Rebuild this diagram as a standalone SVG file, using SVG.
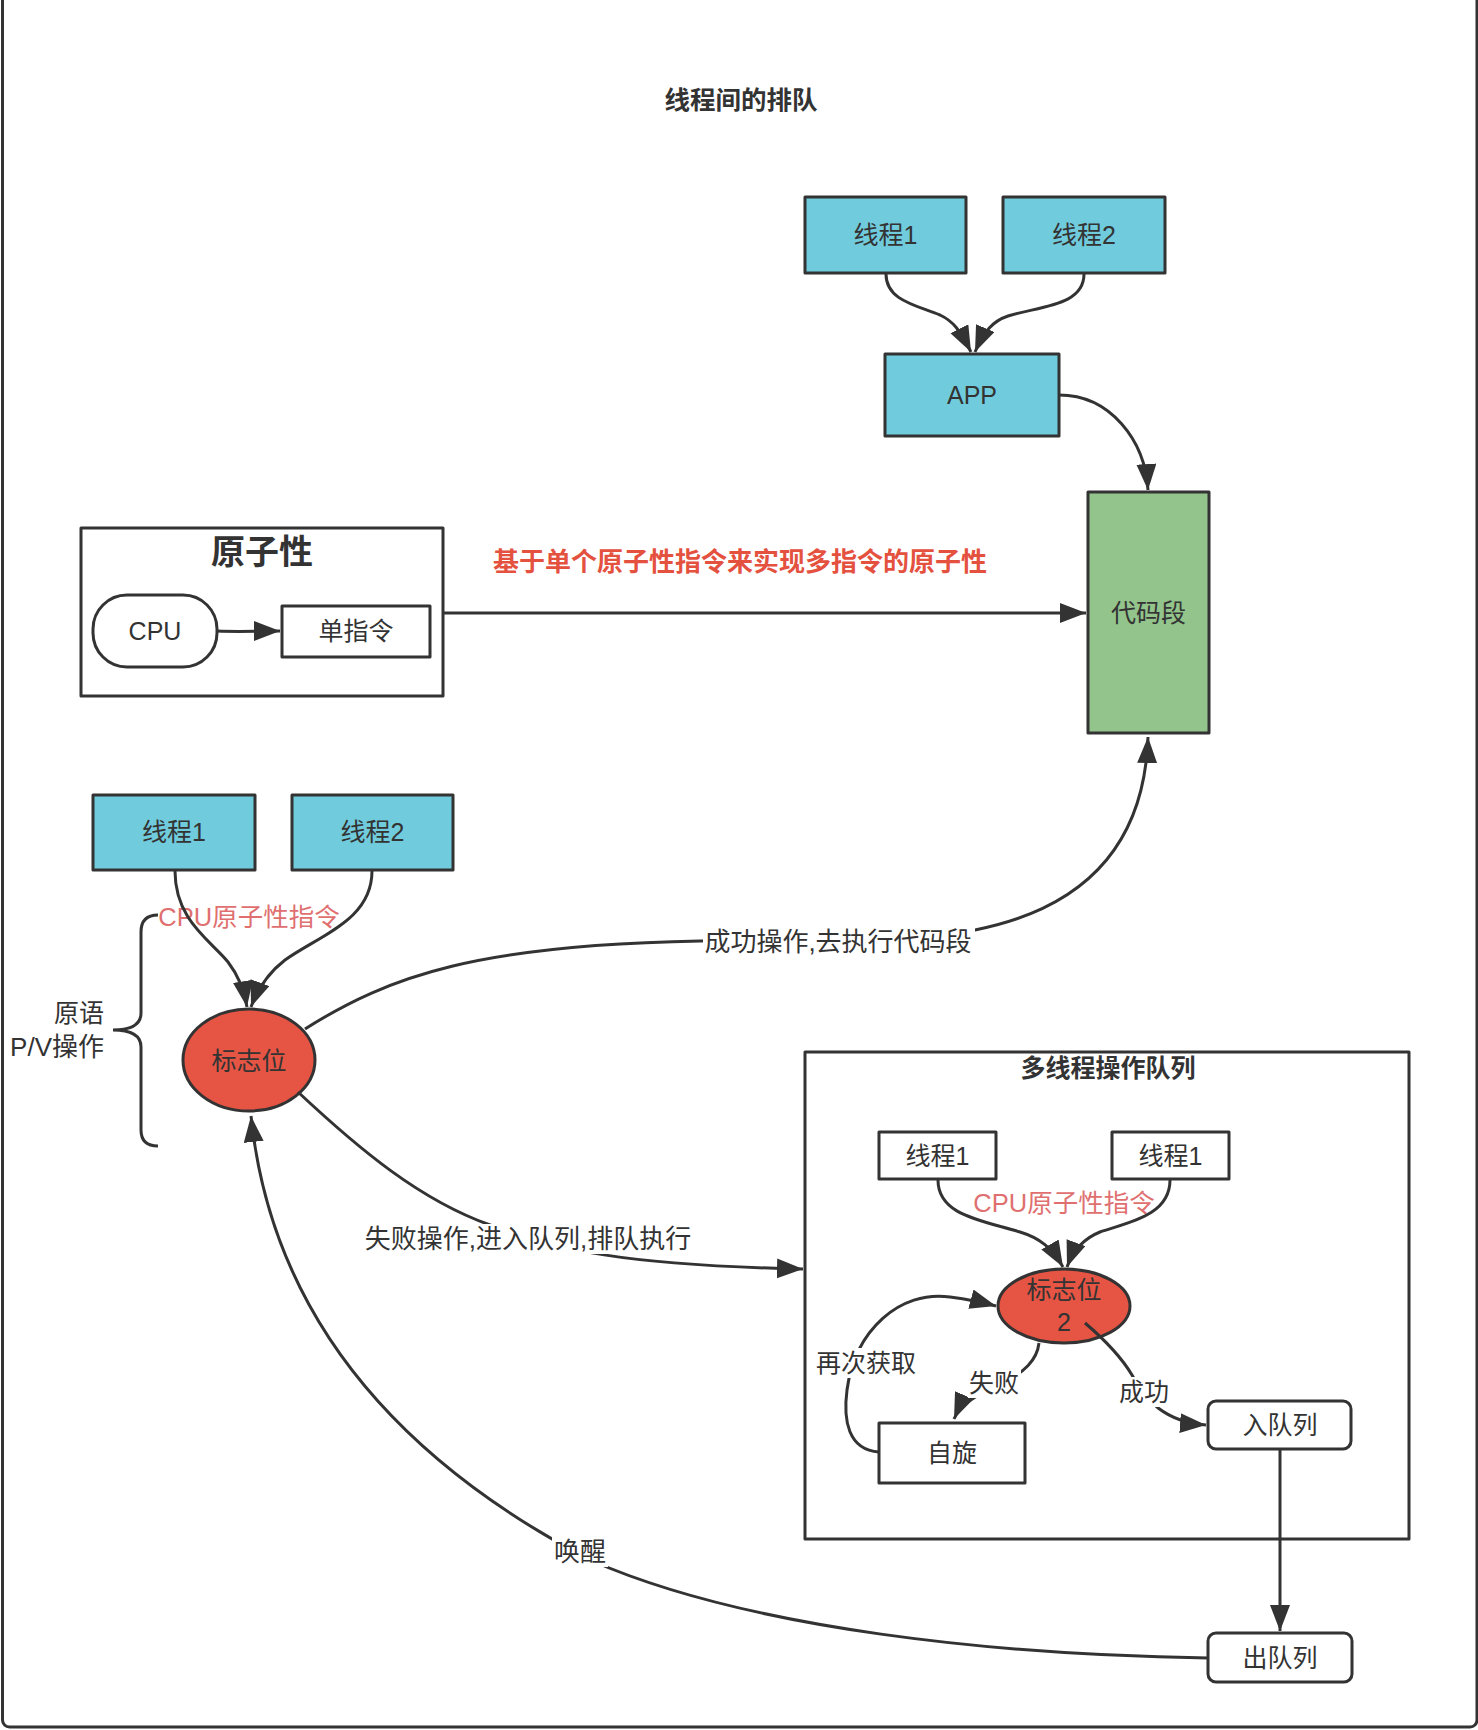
<svg xmlns="http://www.w3.org/2000/svg" width="1478" height="1730" viewBox="0 0 1478 1730">
<defs>
<style>
.t{font-family:"Liberation Sans","Noto Sans CJK SC",sans-serif;font-size:25px;fill:#333;text-anchor:middle;dominant-baseline:central}
.lbl{font-family:"Liberation Sans","Noto Sans CJK SC",sans-serif;font-size:26px;fill:#333;text-anchor:middle;dominant-baseline:central}
.b{font-weight:bold}
.box{stroke:#333;stroke-width:3;stroke-linejoin:round}
.blue{fill:#70CCDD}
.white{fill:#fff}
.edge{fill:none;stroke:#333;stroke-width:3}
.bg{fill:#fff}
.red1{fill:#E65444}
</style>
<marker id="arr" markerUnits="userSpaceOnUse" markerWidth="30" markerHeight="22" refX="26" refY="10" orient="auto">
<path d="M0,0 L26,10 L0,20 Z" fill="#333"/>
</marker>
</defs>
<rect x="0" y="0" width="1478" height="1730" fill="#fff"/>
<rect x="2.5" y="-20" width="1474.5" height="1747" rx="7" fill="none" stroke="#333" stroke-width="3"/>

<text class="t b" x="741" y="100" style="font-size:25.5px">线程间的排队</text>
<text class="t b" x="740" y="562" style="font-size:26px;fill:#E4513F">基于单个原子性指令来实现多指令的原子性</text>

<g id="thread1-top"><rect class="box blue" x="805" y="197" width="161" height="76"/><text class="t" x="885.5" y="235">线程1</text></g>
<g id="thread2-top"><rect class="box blue" x="1003" y="197" width="162" height="76"/><text class="t" x="1084" y="235">线程2</text></g>
<g id="app"><rect class="box blue" x="885" y="354" width="174" height="82"/><text class="t" x="972" y="395">APP</text></g>
<g id="code"><rect class="box" fill="#92C48B" x="1088" y="492" width="121" height="241"/><text class="t" x="1148.5" y="613">代码段</text></g>

<g id="atomic">
<rect class="box" fill="none" x="81" y="528" width="362" height="168"/>
<text class="t b" x="262" y="552" style="font-size:34px">原子性</text>
</g>
<g id="cpu"><rect class="box white" x="93" y="595" width="124" height="72" rx="34"/><text class="t" x="155" y="631">CPU</text></g>
<g id="single"><rect class="box white" x="282" y="606" width="148" height="51"/><text class="t" x="356" y="631">单指令</text></g>

<g id="thread1-bl"><rect class="box blue" x="93" y="795" width="162" height="75"/><text class="t" x="174" y="832">线程1</text></g>
<g id="thread2-bl"><rect class="box blue" x="292" y="795" width="161" height="75"/><text class="t" x="372.5" y="832">线程2</text></g>
<text class="t" x="249" y="917" style="fill:#E07070;font-size:25.5px">CPU原子性指令</text>
<g id="flag"><ellipse class="box red1" cx="249" cy="1060" rx="66" ry="51"/><text class="t" x="249" y="1061">标志位</text></g>
<g id="pv">
<text class="t" x="104" y="1013" style="text-anchor:end">原语</text>
<text class="t" x="104" y="1047" style="text-anchor:end;font-size:26px">P/V操作</text>
</g>

<g id="queue">
<rect class="box" fill="none" x="805" y="1052" width="604" height="487"/>
<text class="t b" x="1108" y="1068">多线程操作队列</text>
</g>
<g id="q-thread1a"><rect class="box white" x="879" y="1132" width="117" height="47"/><text class="t" x="937.5" y="1155.5">线程1</text></g>
<g id="q-thread1b"><rect class="box white" x="1112" y="1132" width="117" height="47"/><text class="t" x="1170.5" y="1155.5">线程1</text></g>
<text class="t" x="1064" y="1203" style="fill:#E07070;font-size:25.5px">CPU原子性指令</text>
<g id="flag2"><ellipse class="box red1" cx="1064" cy="1306" rx="66" ry="37"/><text class="t" x="1064" y="1290">标志位</text><text class="t" x="1064" y="1322">2</text></g>
<g id="spin"><rect class="box white" x="879" y="1423" width="146" height="60"/><text class="t" x="952" y="1453">自旋</text></g>
<g id="enqueue"><rect class="box white" x="1208" y="1401" width="143" height="48" rx="8"/><text class="t" x="1280" y="1425">入队列</text></g>
<g id="dequeue"><rect class="box white" x="1208" y="1633" width="144" height="49" rx="8"/><text class="t" x="1280" y="1658">出队列</text></g>

<g id="connectors">
<path class="edge" d="M886,274 C886,300 915,305 940,315 C953,321 960,330 971,352" marker-end="url(#arr)"/>
<path class="edge" d="M1084,274 C1084,306 1040,306 1008,316 C993,321 984,331 975,352" marker-end="url(#arr)"/>
<path class="edge" d="M1059,395 C1110,395 1145,440 1148,490" marker-end="url(#arr)"/>
<path class="edge" d="M443,613 L1086,613" marker-end="url(#arr)"/>
<path class="edge" d="M217,631 C240,632 255,631 280,631" marker-end="url(#arr)"/>
<path class="edge" d="M175,871 C175,920 210,940 228,962 C238,975 244,988 247,1007" marker-end="url(#arr)"/>
<path class="edge" d="M372,871 C372,920 320,935 285,960 C268,973 258,988 251,1007" marker-end="url(#arr)"/>
<path class="edge" d="M305,1029 C390,975 480,945 700,941 C760,940 890,945 975,930 C1100,905 1145,830 1148,737" marker-end="url(#arr)"/>
<path class="edge" d="M298,1092 C360,1150 420,1200 490,1225 C560,1250 620,1265 803,1269" marker-end="url(#arr)"/>
<path class="edge" d="M1208,1658 C1000,1655 750,1630 590,1560 C380,1450 270,1300 251,1116" marker-end="url(#arr)"/>
<path class="edge" d="M1280,1449 L1280,1631" marker-end="url(#arr)"/>
<path class="edge" d="M938,1180 C938,1215 980,1220 1020,1232 C1040,1238 1052,1248 1063,1267" marker-end="url(#arr)"/>
<path class="edge" d="M1170,1180 C1170,1215 1130,1222 1100,1232 C1085,1238 1074,1248 1067,1267" marker-end="url(#arr)"/>
<path class="edge" d="M879,1452 C848,1450 843,1420 847,1390 C855,1330 900,1290 950,1297 C965,1299 985,1303 996,1306" marker-end="url(#arr)"/>
<path class="edge" d="M1039,1343 C1037,1360 1025,1372 1000,1385 C975,1395 960,1405 954,1419" marker-end="url(#arr)"/>
<path class="edge" d="M1085,1323 C1105,1340 1120,1355 1132,1375 C1145,1400 1165,1422 1206,1425" marker-end="url(#arr)"/>
<path class="edge" d="M158,915 Q141,915 141,932 L141,1013 Q141,1030 113,1030 Q141,1030 141,1047 L141,1130 Q141,1146 158,1146"/>
<rect class="bg" x="703" y="927" width="272" height="30"/>
<text class="lbl" x="838" y="942">成功操作,去执行代码段</text>
<rect class="bg" x="364" y="1224" width="328" height="30"/>
<text class="lbl" x="528" y="1239">失败操作,进入队列,排队执行</text>
<rect class="bg" x="552" y="1537" width="56" height="30"/>
<text class="lbl" x="580" y="1552">唤醒</text>
<rect class="bg" x="813" y="1348" width="106" height="30"/>
<text class="t" x="866" y="1363">再次获取</text>
<rect class="bg" x="968" y="1368" width="53" height="30"/>
<text class="t" x="994" y="1383">失败</text>
<rect class="bg" x="1117" y="1377" width="54" height="30"/>
<text class="t" x="1144" y="1392">成功</text>
</g>
</svg>
